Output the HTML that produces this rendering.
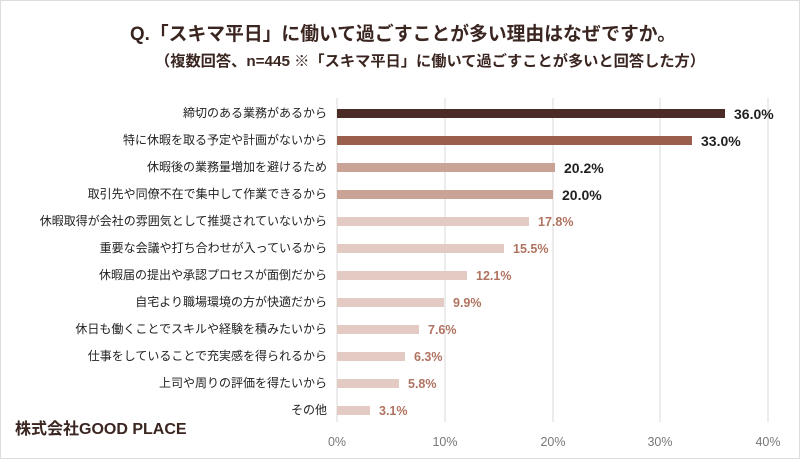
<!DOCTYPE html><html><head><meta charset="utf-8"><style>body{margin:0;background:#fff}svg{display:block}text{font-family:"Liberation Sans","Noto Sans CJK JP",sans-serif}</style></head><body>
<svg width="800" height="459" viewBox="0 0 800 459">
<rect x="0.5" y="0.5" width="799" height="458" fill="#fff" stroke="#ddd"/>
<text x="403" y="40" text-anchor="middle" font-size="19" font-weight="bold" fill="#3a2520" textLength="546" lengthAdjust="spacingAndGlyphs">Q.「スキマ平日」に働いて過ごすことが多い理由はなぜですか。</text>
<text x="430" y="66" text-anchor="middle" font-size="15" font-weight="bold" fill="#3a2520" textLength="550" lengthAdjust="spacingAndGlyphs">（複数回答、n=445 ※「スキマ平日」に働いて過ごすことが多いと回答した方）</text>
<g stroke="#d9d9d9" stroke-width="1">
<line x1="337" y1="98" x2="337" y2="422"/><line x1="445" y1="98" x2="445" y2="422"/><line x1="553" y1="98" x2="553" y2="422"/><line x1="660" y1="98" x2="660" y2="422"/><line x1="768" y1="98" x2="768" y2="422"/></g>
<g font-size="12.5" fill="#777" text-anchor="middle">
<text x="337" y="446">0%</text><text x="445" y="446">10%</text><text x="553" y="446">20%</text><text x="660" y="446">30%</text><text x="768" y="446">40%</text></g>
<g font-size="12" fill="#222" text-anchor="end">
<text x="327" y="117">締切のある業務があるから</text>
<text x="327" y="144">特に休暇を取る予定や計画がないから</text>
<text x="327" y="171">休暇後の業務量増加を避けるため</text>
<text x="327" y="198">取引先や同僚不在で集中して作業できるから</text>
<text x="327" y="225">休暇取得が会社の雰囲気として推奨されていないから</text>
<text x="327" y="252">重要な会議や打ち合わせが入っているから</text>
<text x="327" y="279">休暇届の提出や承認プロセスが面倒だから</text>
<text x="327" y="306">自宅より職場環境の方が快適だから</text>
<text x="327" y="333">休日も働くことでスキルや経験を積みたいから</text>
<text x="327" y="360">仕事をしていることで充実感を得られるから</text>
<text x="327" y="387">上司や周りの評価を得たいから</text>
<text x="327" y="414">その他</text></g>
<rect x="337" y="109" width="388" height="9" fill="#4b2b25"/>
<rect x="337" y="136" width="355" height="9" fill="#9a5f4c"/>
<rect x="337" y="163" width="218" height="9" fill="#c9a395"/>
<rect x="337" y="190" width="216" height="9" fill="#c9a395"/>
<g fill="#e3cbc3">
<rect x="337" y="217" width="192" height="9"/>
<rect x="337" y="244" width="167" height="9"/>
<rect x="337" y="271" width="130" height="9"/>
<rect x="337" y="298" width="107" height="9"/>
<rect x="337" y="325" width="82" height="9"/>
<rect x="337" y="352" width="68" height="9"/>
<rect x="337" y="379" width="62" height="9"/>
<rect x="337" y="406" width="33" height="9"/></g>
<g font-size="14" font-weight="bold" fill="#222">
<text x="734" y="119">36.0%</text><text x="701" y="146">33.0%</text><text x="564" y="173">20.2%</text><text x="562" y="200">20.0%</text></g>
<g font-size="12.5" font-weight="bold" fill="#b07360">
<text x="538" y="226">17.8%</text><text x="513" y="253">15.5%</text><text x="476" y="280">12.1%</text><text x="453" y="307">9.9%</text><text x="428" y="334">7.6%</text><text x="414" y="361">6.3%</text><text x="408" y="388">5.8%</text><text x="379" y="415">3.1%</text></g>
<text x="15" y="434" font-size="16" font-weight="bold" fill="#3a2520">株式会社GOOD PLACE</text>
</svg></body></html>
